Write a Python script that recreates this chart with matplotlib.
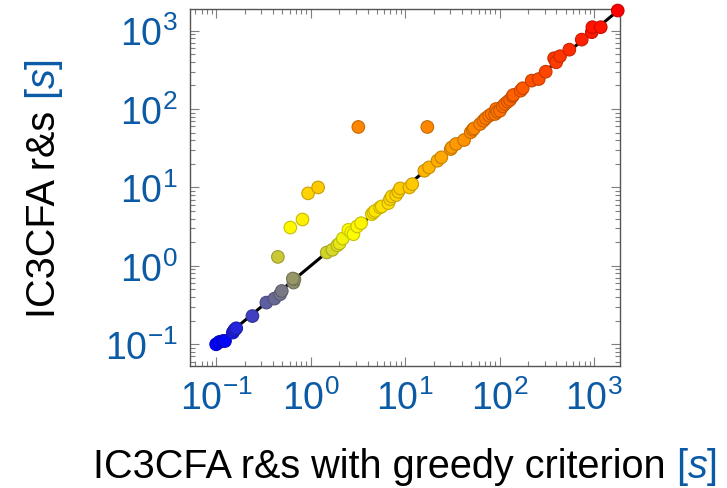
import numpy as np
import matplotlib
matplotlib.use("Agg")
import matplotlib.pyplot as plt
from matplotlib.colors import LinearSegmentedColormap, Normalize
from matplotlib.ticker import FuncFormatter, LogLocator, NullFormatter

plt.rcParams["font.family"] = ["Liberation Sans", "DejaVu Sans"]
plt.rcParams["mathtext.fontset"] = "custom"
plt.rcParams["mathtext.rm"] = "Liberation Sans"
plt.rcParams["mathtext.it"] = "Liberation Sans:italic"
plt.rcParams["mathtext.bf"] = "Liberation Sans:bold"

# Runtimes in seconds: greedy criterion (x) vs. default (y)
greedy_time = [
    0.100, 0.108, 0.118, 0.124, 0.150, 0.156, 0.163, 0.242, 0.340, 0.414,
    0.475, 0.495, 0.658, 0.674, 0.648, 0.45, 1.48, 1.70, 1.92, 2.02,
    2.19, 2.51, 2.69, 2.84, 3.11, 3.42, 4.44, 4.62, 4.82, 5.43,
    5.66, 6.65, 6.93, 7.22, 8.03, 8.49, 8.85, 11.1, 11.9, 0.61,
    0.82, 0.94, 1.2, 3.2, 17.2, 16.0, 17.9, 22.0, 24.2, 30.4,
    31.2, 34.6, 42.1, 49.5, 52.0, 53.7, 62.2, 67.5, 71.5, 77.5,
    82.7, 89.6, 91.8, 94.8, 101, 108, 114, 122, 129, 137,
    140, 167, 176, 219, 260, 308, 378, 397, 437, 548,
    741, 946, 961, 1178, 1782,
]
default_time = [
    0.100, 0.107, 0.110, 0.110, 0.141, 0.152, 0.160, 0.229, 0.340, 0.382,
    0.434, 0.478, 0.612, 0.675, 0.689, 1.30, 1.48, 1.60, 1.83, 1.93,
    2.23, 2.88, 2.66, 2.53, 3.18, 3.50, 4.56, 4.80, 5.02, 5.56,
    5.72, 6.31, 7.10, 7.68, 7.98, 8.80, 9.71, 10.0, 11.0, 3.08,
    3.9, 8.4, 10.0, 59, 59, 16.3, 18.0, 21.9, 24.2, 30.8,
    32.4, 35.8, 40.2, 50.4, 54.4, 56.6, 64.3, 70.9, 76.1, 82.1,
    86.3, 86.3, 100, 92.4, 95.1, 108, 116, 124, 131, 145,
    151, 171, 184, 230, 241, 299, 444, 394, 471, 571,
    767, 953, 1104, 1104, 1800,
]
diag_range = [0.1, 1800]
axis_range = [10 ** -1.277, 10 ** 3.275]

TICK_BLUE = "#0b5aa6"

x = np.array(greedy_time)
y = np.array(default_time)

cmap = LinearSegmentedColormap.from_list(
    "byor", [(0, 0, 1), (1, 1, 0), (1, 0.5, 0), (1, 0, 0)])
norm = Normalize(vmin=np.log10(min(default_time)), vmax=np.log10(max(default_time)))
face = cmap(norm(np.log10(y)))
edge = face.copy()
edge[:, :3] *= 0.78

fig = plt.figure(figsize=(7.27, 4.89), dpi=100)
ax = fig.add_axes([190 / 727, 1 - 367 / 489, 430 / 727, 357 / 489])

ax.plot(diag_range, diag_range, color="black", lw=2.2, zorder=2)
ax.scatter(x, y, s=82, c=face, edgecolors=edge, linewidths=0.8, zorder=3,
           clip_on=False)

ax.set_xscale("log")
ax.set_yscale("log")
ax.set_xlim(axis_range)
ax.set_ylim(axis_range)

fmt = FuncFormatter(lambda v, p: r"$10^{%d}$" % int(round(np.log10(v))))
for axis in (ax.xaxis, ax.yaxis):
    axis.set_major_locator(LogLocator(base=10, numticks=10))
    axis.set_minor_locator(LogLocator(base=10, subs=np.arange(2, 10), numticks=20))
    axis.set_major_formatter(fmt)
    axis.set_minor_formatter(NullFormatter())

ax.tick_params(which="both", direction="in", top=True, right=True,
               color="#7f7f7f", width=0.8, labelsize=27, labelcolor=TICK_BLUE)
ax.tick_params(which="major", length=6.5)
ax.tick_params(which="minor", length=3.5)
ax.tick_params(axis="x", pad=10)
ax.tick_params(axis="y", pad=9)
for sp in ax.spines.values():
    sp.set_color("#555555")
    sp.set_linewidth(1.0)

# Axis titles: black text followed by a blue unit
LABEL_SIZE = 28.5
fig.canvas.draw()
renderer = fig.canvas.get_renderer()


def text_width(s, **kw):
    t = fig.text(0, 0, s, fontsize=LABEL_SIZE, **kw)
    w = t.get_window_extent(renderer).width
    t.remove()
    return w


xl_main = "IC3CFA r&s with greedy criterion "
yl_main = "IC3CFA r&s "
unit = r"$[s]$"

w_xmain = text_width(xl_main)
w_unit = text_width(unit)
w_ymain = text_width(yl_main)

W, H = 727, 489
cx = (190 + 620) / 2
x0 = cx - (w_xmain + w_unit) / 2
base_y = 478
fig.text(x0 / W, 1 - base_y / H, xl_main, fontsize=LABEL_SIZE, color="black",
         ha="left", va="baseline")
fig.text((x0 + w_xmain) / W, 1 - base_y / H, unit, fontsize=LABEL_SIZE,
         color=TICK_BLUE, ha="left", va="baseline")

cy = (10 + 367) / 2
y0 = cy + (w_ymain + w_unit) / 2
base_x = 55
fig.text(base_x / W, 1 - y0 / H, yl_main, fontsize=LABEL_SIZE, color="black",
         rotation=90, rotation_mode="anchor", ha="left", va="baseline")
fig.text(base_x / W, 1 - (y0 - w_ymain) / H, unit, fontsize=LABEL_SIZE,
         color=TICK_BLUE, rotation=90, rotation_mode="anchor", ha="left",
         va="baseline")

fig.savefig("out.png", dpi=100)
